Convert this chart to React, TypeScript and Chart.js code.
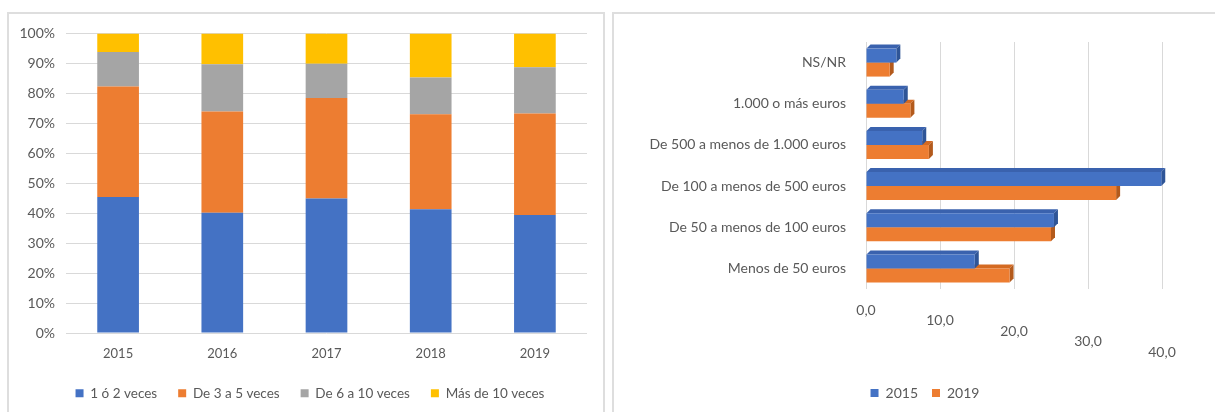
import React, { useEffect, useRef } from 'react';
import { Chart, registerables } from 'chart.js';

Chart.register(...registerables);

// ---------- Left chart data ----------
const years = ['2015', '2016', '2017', '2018', '2019'];
const serie1a2 = [45.4, 40.1, 44.9, 41.3, 39.4];
const serie3a5 = [36.9, 33.8, 33.5, 31.7, 33.9];
const serie6a10 = [11.5, 15.8, 11.5, 12.3, 15.4];
const serieMas10 = [6.2, 10.3, 10.1, 14.7, 11.3];
const leftNames = ['1 ó 2 veces', 'De 3 a 5 veces', 'De 6 a 10 veces', 'Más de 10 veces'];

// ---------- Right chart data ----------
const amountCats = [
  'NS/NR',
  '1.000 o más euros',
  'De 500 a menos de 1.000 euros',
  'De 100 a menos de 500 euros',
  'De 50 a menos de 100 euros',
  'Menos de 50 euros',
];
const values2015 = [4.1, 5.1, 7.6, 39.9, 25.4, 14.7];
const values2019 = [3.2, 6.0, 8.5, 33.8, 25.0, 19.4];
const rightNames = ['2015', '2019'];

const BLUE = '#4472C4';
const ORANGE = '#ED7D31';
const GRAY = '#A5A5A5';
const YELLOW = '#FFC000';
const TEXT = '#595959';
const GRID = '#D9D9D9';
const FONT = 'Lato';

const fmtComma = (v: number) => v.toFixed(1).replace('.', ',');

const depthPlugin = {
  id: 'depth3d',
  beforeDatasetsDraw(chart: any) {
    const ctx = chart.ctx;
    const d = 4;
    const faces = [
      { top: '#3A62AE', side: '#2F5597' },
      { top: '#D46A22', side: '#B35A1C' },
    ];
    ctx.save();
    for (let di = chart.data.datasets.length - 1; di >= 0; di--) {
      const meta = chart.getDatasetMeta(di);
      const f = faces[di];
      meta.data.forEach((el: any) => {
        const { x, y, base, height } = el.getProps(['x', 'y', 'base', 'height'], true);
        const top = y - height / 2;
        const bottom = y + height / 2;
        ctx.fillStyle = f.top;
        ctx.beginPath();
        ctx.moveTo(base, top);
        ctx.lineTo(base + d, top - d);
        ctx.lineTo(x + d, top - d);
        ctx.lineTo(x, top);
        ctx.closePath();
        ctx.fill();
        ctx.fillStyle = f.side;
        ctx.beginPath();
        ctx.moveTo(x, top);
        ctx.lineTo(x + d, top - d);
        ctx.lineTo(x + d, bottom - d);
        ctx.lineTo(x, bottom);
        ctx.closePath();
        ctx.fill();
      });
    }
    ctx.restore();
  },
};

const slantTicksPlugin = {
  id: 'slantTicks',
  afterDraw(chart: any) {
    const xs = chart.scales.x;
    const ctx = chart.ctx;
    ctx.save();
    ctx.font = `14px ${FONT}`;
    ctx.fillStyle = TEXT;
    ctx.textAlign = 'center';
    ctx.textBaseline = 'middle';
    xs.ticks.forEach((t: any, i: number) => {
      const px = xs.getPixelForValue(t.value);
      ctx.fillText(fmtComma(t.value), px, chart.chartArea.bottom + 21 + i * 10.5);
    });
    ctx.restore();
  },
};

// lets y tick labels extend left of the (narrowed) y axis box
const unclipYPlugin = {
  id: 'unclipY',
  afterLayout(chart: any) {
    chart.scales.y.left = 0;
  },
};

function LeftChart() {
  const ref = useRef<HTMLCanvasElement>(null);
  useEffect(() => {
    const colors = [BLUE, ORANGE, GRAY, YELLOW];
    const series = [serie1a2, serie3a5, serie6a10, serieMas10];
    const chart = new Chart(ref.current!, {
      type: 'bar',
      data: {
        labels: years,
        datasets: series.map((s, i) => ({
          label: leftNames[i],
          data: s,
          backgroundColor: colors[i],
          borderWidth: 0,
          categoryPercentage: 1,
          barPercentage: 0.4,
        })),
      },
      options: {
        responsive: false,
        animation: false,
        layout: { padding: { left: 24, right: 16, top: 19, bottom: 2 } },
        plugins: {
          legend: {
            position: 'bottom',
            labels: {
              boxWidth: 8,
              boxHeight: 8,
              padding: 21,
              color: TEXT,
              font: { family: FONT, size: 13.5 },
            },
          },
          tooltip: { enabled: false },
        },
        scales: {
          x: {
            stacked: true,
            grid: { display: false, drawTicks: false },
            border: { display: false },
            ticks: { color: TEXT, font: { family: FONT, size: 13 }, padding: 13 },
            afterFit: (s: any) => {
              s.height = 32.5;
            },
          },
          y: {
            stacked: true,
            min: 0,
            max: 100,
            ticks: {
              stepSize: 10,
              color: TEXT,
              font: { family: FONT, size: 14 },
              padding: 11,
              callback: (v: any) => `${v}%`,
            },
            grid: { color: GRID, lineWidth: 1, drawTicks: false },
            border: { display: false },
            afterFit: (s: any) => {
              s.width = 33;
            },
          },
        },
      },
      plugins: [unclipYPlugin],
    } as any);
    return () => chart.destroy();
  }, []);
  return <canvas ref={ref} width={594} height={398} style={{ display: 'block' }} />;
}

function RightChart() {
  const ref = useRef<HTMLCanvasElement>(null);
  useEffect(() => {
    const chart = new Chart(ref.current!, {
      type: 'bar',
      data: {
        labels: amountCats,
        datasets: [
          {
            label: rightNames[0],
            data: values2015,
            backgroundColor: BLUE,
            borderWidth: 0,
            categoryPercentage: 0.68,
            barPercentage: 1,
          },
          {
            label: rightNames[1],
            data: values2019,
            backgroundColor: ORANGE,
            borderWidth: 0,
            categoryPercentage: 0.68,
            barPercentage: 1,
          },
        ],
      },
      options: {
        indexAxis: 'y',
        responsive: false,
        animation: false,
        layout: { padding: { left: 74, right: 53, top: 28, bottom: 2 } },
        plugins: {
          legend: {
            position: 'bottom',
            labels: {
              boxWidth: 8,
              boxHeight: 8,
              padding: 14,
              color: TEXT,
              font: { family: FONT, size: 14 },
            },
          },
          tooltip: { enabled: false },
        },
        scales: {
          x: {
            min: 0,
            max: 40,
            ticks: { stepSize: 10, display: false },
            grid: { color: GRID, lineWidth: 1, drawTicks: false },
            border: { display: false },
            afterFit: (s: any) => {
              s.height = 83;
            },
          },
          y: {
            grid: { display: false },
            border: { display: false },
            ticks: { color: TEXT, font: { family: FONT, size: 14 }, padding: 12 },
            afterFit: (s: any) => {
              s.width = 178;
            },
          },
        },
      },
      plugins: [unclipYPlugin, depthPlugin, slantTicksPlugin],
    } as any);
    return () => chart.destroy();
  }, []);
  return <canvas ref={ref} width={601} height={398} style={{ display: 'block' }} />;
}

export default function App() {
  const panel: React.CSSProperties = {
    position: 'absolute',
    boxSizing: 'border-box',
    border: '2px solid #DEDEDE',
    background: '#fff',
  };
  return (
    <div
      style={{
        position: 'absolute',
        left: 0,
        top: 0,
        width: 1215,
        height: 412,
        overflow: 'hidden',
        background: '#fff',
      }}
    >
      <div style={{ ...panel, left: 7, top: 12, width: 598, height: 420 }} />
      <div style={{ ...panel, left: 612, top: 12, width: 620, height: 420 }} />
      <div style={{ position: 'absolute', left: 9, top: 14 }}>
        <LeftChart />
      </div>
      <div style={{ position: 'absolute', left: 614, top: 14 }}>
        <RightChart />
      </div>
    </div>
  );
}
